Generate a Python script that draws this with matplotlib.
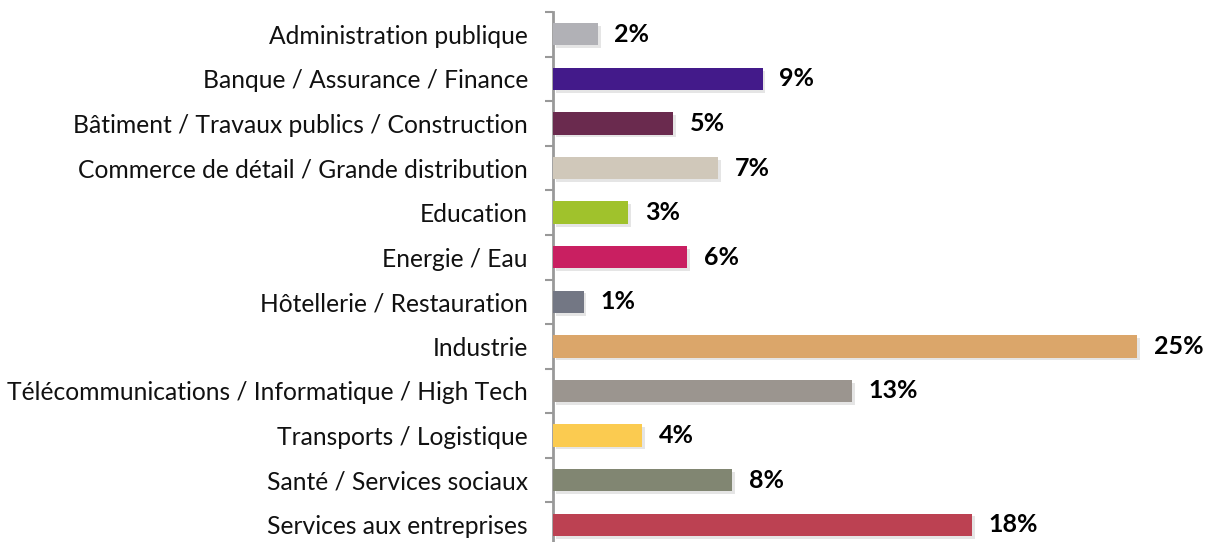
import numpy as np
import matplotlib.pyplot as plt
from matplotlib import patheffects

# Données du graphique (ordre de haut en bas)
secteurs = [
    "Administration publique",
    "Banque / Assurance / Finance",
    "Bâtiment / Travaux publics / Construction",
    "Commerce de détail / Grande distribution",
    "Education",
    "Energie / Eau",
    "Hôtellerie / Restauration",
    "Industrie",
    "Télécommunications / Informatique / High Tech",
    "Transports / Logistique",
    "Santé / Services sociaux",
    "Services aux entreprises",
]
pourcentages = [1.9, 8.9, 5.1, 7.0, 3.2, 5.7, 1.3, 24.8, 12.7, 3.8, 7.6, 17.8]
couleurs = [
    "#B1B1B6", "#431A8A", "#6A2A4E", "#D0C8BA", "#A0C22C", "#C91F61",
    "#737784", "#DBA66A", "#9B958F", "#FBCB50", "#818672", "#BC4152",
]

plt.rcParams['font.family'] = ['Lato', 'DejaVu Sans']

fig = plt.figure(figsize=(12.07, 5.42), dpi=100)
ax = fig.add_axes([553 / 1207, -5 / 542, 654 / 1207, 535 / 542])

y = np.arange(len(secteurs))
ombre = [patheffects.SimplePatchShadow(offset=(2, -2), shadow_rgbFace='#999999', alpha=0.25),
         patheffects.Normal()]
bars = ax.barh(y, pourcentages, height=0.5, color=couleurs, zorder=3)
for b in bars:
    b.set_path_effects(ombre)

ax.bar_label(bars, labels=[f"{v:.0f}%" for v in pourcentages], padding=12,
             fontsize=18, fontweight='bold', color='black')

ax.set_xlim(0, 27.77)
ax.set_ylim(len(secteurs) - 0.5, -0.5)

# Axe vertical avec graduations entre les catégories
ax.set_yticks(y)
ax.set_yticklabels(secteurs, fontsize=17.7, color='#111111')
ax.set_yticks(np.arange(len(secteurs) + 1) - 0.5, minor=True)
ax.tick_params(axis='y', which='major', length=0, pad=18)
ax.tick_params(axis='y', which='minor', length=6, width=1.5, color='#999999')
ax.set_xticks([])

for s in ['top', 'right', 'bottom']:
    ax.spines[s].set_visible(False)
ax.spines['left'].set_color('#999999')
ax.spines['left'].set_linewidth(2)

fig.savefig('out.png', dpi=100)
